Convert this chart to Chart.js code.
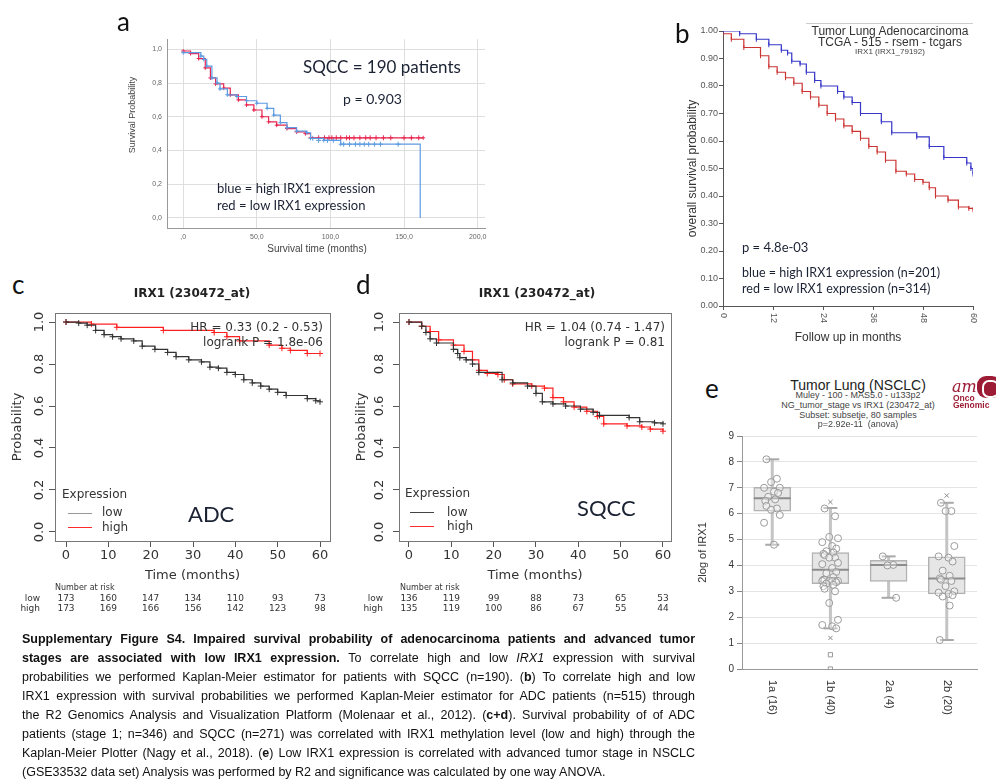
<!DOCTYPE html>
<html>
<head>
<meta charset="utf-8">
<title>Supplementary Figure S4</title>
<script src="https://cdn.jsdelivr.net/npm/chart.js@4.4.1/dist/chart.umd.min.js"></script>
<style>
  body { margin: 0; background: #fff; }
  #page { position: relative; width: 996px; height: 780px; overflow: hidden; background: #fff;
          font-family: 'Liberation Sans', Arial, sans-serif; color: #222; }
  #page canvas { position: absolute; }
  .t { position: absolute; white-space: nowrap; line-height: 1; }
  .letter { font-family: Lato, 'Open Sans', sans-serif; font-size: 26px; color: #111; }
  .note { font-family: Lato, 'Open Sans', sans-serif; color: #1b2233; }
  .rfont { font-family: 'DejaVu Sans', sans-serif; color: #333; }
  .red { color: #ff2a2a; }
  .risk { font-family: 'DejaVu Sans', sans-serif; font-size: 9px; color: #333; }
  .key { position: absolute; width: 24px; height: 0; border-top: 1px solid #888; }
  .caption { position: absolute; left: 22px; top: 630px; width: 673px; font-size: 12.5px; line-height: 19px; color: #111; }
  .caption div { white-space: nowrap; }
  .caption span { display: inline-block; transform-origin: 0 50%; }
</style>
</head>
<body>
<div id="page">
  <canvas id="chartA" width="390" height="230" style="left:110px;top:30px"></canvas>
  <canvas id="chartB" width="326" height="335" style="left:670px;top:15px"></canvas>
  <canvas id="chartC" width="340" height="290" style="left:0px;top:300px"></canvas>
  <canvas id="chartD" width="340" height="290" style="left:340px;top:300px"></canvas>
  <canvas id="chartE" width="306" height="300" style="left:690px;top:425px"></canvas>

  <!-- panel a -->
  <div class="t letter" style="left:117px;top:8px">a</div>
  <div class="t note" style="left:303px;top:58px;font-size:17px">SQCC = 190 patients</div>
  <div class="t note" style="left:343px;top:92px;font-size:14px">p = 0.903</div>
  <div class="t note" style="left:217px;top:182px;font-size:13px">blue = high IRX1 expression</div>
  <div class="t note" style="left:217px;top:199px;font-size:13px">red = low IRX1 expression</div>
  <div class="t" style="left:132px;top:115px;font-size:9px;color:#444;transform:translate(-50%,-50%) rotate(-90deg)">Survival Probability</div>
  <div class="t" style="left:317px;top:249px;font-size:10px;color:#444;transform:translate(-50%,-50%)">Survival time (months)</div>

  <!-- panel b -->
  <div class="t letter" style="left:675px;top:20px">b</div>
  <div style="position:absolute;left:806px;top:23px;width:167px;border-top:1px solid #ccc"></div>
  <div class="t" style="left:890px;top:25px;font-size:12px;color:#333;transform:translateX(-50%)">Tumor Lung Adenocarcinoma</div>
  <div class="t" style="left:890px;top:36px;font-size:12px;color:#333;transform:translateX(-50%)">TCGA - 515 - rsem - tcgars</div>
  <div class="t" style="left:890px;top:48px;font-size:8px;color:#444;transform:translateX(-50%)">IRX1 (IRX1_79192)</div>
  <div class="t note" style="left:742px;top:241px;font-size:13px">p = 4.8e-03</div>
  <div class="t note" style="left:742px;top:267px;font-size:12.5px">blue = high IRX1 expression (n=201)</div>
  <div class="t note" style="left:742px;top:283px;font-size:12.5px">red = low IRX1 expression (n=314)</div>

  <!-- panel c -->
  <div class="t letter" style="left:12px;top:271px">c</div>
  <div class="t rfont" style="left:192px;top:287px;font-size:12px;font-weight:bold;color:#222;transform:translateX(-50%)">IRX1 (230472_at)</div>
  <div class="t rfont" style="left:323px;top:321px;font-size:12px;transform:translateX(-100%)">HR = 0.33 (0.2 - 0.53)</div>
  <div class="t rfont" style="left:323px;top:336px;font-size:12px;transform:translateX(-100%)">logrank P = 1.8e-06</div>
  <div class="t rfont" style="left:62px;top:488px;font-size:12px">Expression</div>
  <div class="key" style="left:68px;top:513px;border-color:#999"></div>
  <div class="key" style="left:68px;top:527px;border-color:#ff2a2a"></div>
  <div class="t rfont" style="left:102px;top:506px;font-size:12px">low</div>
  <div class="t rfont" style="left:102px;top:521px;font-size:12px">high</div>
  <div class="t note" style="left:188px;top:503px;font-size:22px">ADC</div>
  <div class="t risk" style="left:55px;top:584px;font-size:8px">Number at risk</div>
  <div class="t risk" style="left:40px;top:594px;transform:translateX(-100%)">low</div>
  <div class="t risk red" style="left:40px;top:604px;transform:translateX(-100%)">high</div>

  <!-- panel d -->
  <div class="t letter" style="left:356px;top:271px">d</div>
  <div class="t rfont" style="left:537px;top:287px;font-size:12px;font-weight:bold;color:#222;transform:translateX(-50%)">IRX1 (230472_at)</div>
  <div class="t rfont" style="left:665px;top:321px;font-size:12px;transform:translateX(-100%)">HR = 1.04 (0.74 - 1.47)</div>
  <div class="t rfont" style="left:665px;top:336px;font-size:12px;transform:translateX(-100%)">logrank P = 0.81</div>
  <div class="t rfont" style="left:405px;top:487px;font-size:12px">Expression</div>
  <div class="key" style="left:410px;top:512px;border-color:#444"></div>
  <div class="key" style="left:410px;top:526px;border-color:#ff2a2a"></div>
  <div class="t rfont" style="left:447px;top:506px;font-size:12px">low</div>
  <div class="t rfont" style="left:447px;top:520px;font-size:12px">high</div>
  <div class="t note" style="left:577px;top:497px;font-size:22px">SQCC</div>
  <div class="t risk" style="left:400px;top:584px;font-size:8px">Number at risk</div>
  <div class="t risk" style="left:383px;top:594px;transform:translateX(-100%)">low</div>
  <div class="t risk red" style="left:383px;top:604px;transform:translateX(-100%)">high</div>

  <!-- panel e -->
  <div class="t letter" style="left:705px;top:375px">e</div>
  <div class="t" style="left:858px;top:378px;font-size:14px;color:#222;transform:translateX(-50%)">Tumor Lung (NSCLC)</div>
  <div class="t" style="left:858px;top:391px;font-size:9px;color:#444;transform:translateX(-50%)">Muley - 100 - MAS5.0 - u133p2</div>
  <div class="t" style="left:858px;top:401px;font-size:9px;color:#444;transform:translateX(-50%)">NG_tumor_stage vs IRX1 (230472_at)</div>
  <div class="t" style="left:858px;top:411px;font-size:9px;color:#444;transform:translateX(-50%)">Subset: subsetje, 80 samples</div>
  <div class="t" style="left:858px;top:420px;font-size:9px;color:#444;transform:translateX(-50%)">p=2.92e-11&nbsp; (anova)</div>
  <div style="position:absolute;left:977px;top:376px;width:24px;height:22px;border-radius:9px;background:#9d1c35"></div>
  <div style="position:absolute;left:982px;top:380px;width:13px;height:14px;border-radius:7px;border:2px solid #fff;border-right-color:transparent"></div>
  <div class="t" style="left:952px;top:377px;font:italic 16px 'DejaVu Serif',serif;color:#9d1c35">am</div>
  <div class="t" style="left:953px;top:393px;font:bold 8.5px 'Liberation Sans',sans-serif;color:#9d1c35">Onco</div>
  <div class="t" style="left:953px;top:400px;font:bold 8.5px 'Liberation Sans',sans-serif;color:#9d1c35">Genomic</div>

  <div class="caption">
    <div><span><b>Supplementary Figure S4. Impaired survival probability of adenocarcinoma patients and advanced tumor</b></span></div>
    <div><span><b>stages are associated with low IRX1 expression.</b> To correlate high and low <i>IRX1</i> expression with survival</span></div>
    <div><span>probabilities we performed Kaplan-Meier estimator for patients with SQCC (n=190). (<b>b</b>) To correlate high and low</span></div>
    <div><span>IRX1 expression with survival probabilities we performed Kaplan-Meier estimator for ADC patients (n=515) through</span></div>
    <div><span>the R2 Genomics Analysis and Visualization Platform (Molenaar et al., 2012). (<b>c+d</b>). Survival probability of of ADC</span></div>
    <div><span>patients (stage 1; n=346) and SQCC (n=271) was correlated with IRX1 methylation level (low and high) through the</span></div>
    <div><span>Kaplan-Meier Plotter (Nagy et al., 2018). (<b>e</b>) Low IRX1 expression is correlated with advanced tumor stage in NSCLC</span></div>
    <div class="last"><span>(GSE33532 data set) Analysis was performed by R2 and significance was calculated by one way ANOVA.</span></div>
  </div>
</div>

<script>
// ---- panel a: SQCC, SPSS export (months, survival) ----
const aTicksX = [0, 50, 100, 150, 200];
const aTicksY = [0, 0.2, 0.4, 0.6, 0.8, 1.0];
const aHighT = [0, 12, 14, 16, 19.5, 23, 25, 30, 36.5, 43, 50, 57, 61.5, 66, 70.5, 77, 84, 86.5, 95.5, 107, 161];
const aHighS = [0.98, 0.96, 0.94, 0.9, 0.83, 0.8, 0.765, 0.73, 0.72, 0.695, 0.68, 0.65, 0.61, 0.565, 0.535, 0.515, 0.505, 0.472, 0.46, 0.437, 0];
const aLowT = [0, 5, 10.5, 15, 18.5, 22, 27.5, 32, 37.5, 43, 48, 53.5, 58, 63.5, 70.5, 77, 83, 86.5, 163];
const aLowS = [0.99, 0.975, 0.945, 0.89, 0.83, 0.795, 0.77, 0.73, 0.7, 0.67, 0.64, 0.6, 0.57, 0.55, 0.53, 0.51, 0.5, 0.475, 0.475];
const aHighCensT = [88, 92, 98, 102, 109, 113, 117, 120, 123, 126, 130, 134, 146];
const aHighCensS = [0.472, 0.46, 0.46, 0.46, 0.437, 0.437, 0.437, 0.437, 0.437, 0.437, 0.437, 0.437, 0.437];
const aLowCensT = [92, 96, 99, 101, 104, 107, 111, 113, 116, 120, 124, 127, 131, 136, 141, 150, 155, 160];
const aLowCensS = [0.475, 0.475, 0.475, 0.475, 0.475, 0.475, 0.475, 0.475, 0.475, 0.475, 0.475, 0.475, 0.475, 0.475, 0.475, 0.475, 0.475, 0.475];

// ---- panel b: TCGA ADC ----
const bTicksX = [0, 12, 24, 36, 48, 60];
const bTicksY = [0, 0.1, 0.2, 0.3, 0.4, 0.5, 0.6, 0.7, 0.8, 0.9, 1.0];
const bHighT = [0, 4, 8, 11, 14, 15.5, 16.5, 18.5, 20, 22, 23.5, 27.5, 29, 31, 33, 38, 40.5, 46.5, 49.5, 53, 58.5, 59.5, 60];
const bHighS = [1.0, 0.99, 0.97, 0.95, 0.93, 0.92, 0.89, 0.88, 0.85, 0.82, 0.8, 0.78, 0.76, 0.74, 0.7, 0.67, 0.63, 0.615, 0.58, 0.54, 0.52, 0.5, 0.48];
const bLowT = [0, 2, 5, 9, 11, 13, 15, 17, 19, 21, 23, 25, 27, 29, 31, 33, 35, 37, 39, 41.5, 44, 46, 48, 49.5, 51, 54, 56.5, 59, 60];
const bLowS = [0.99, 0.97, 0.94, 0.91, 0.87, 0.85, 0.83, 0.81, 0.78, 0.76, 0.73, 0.7, 0.68, 0.655, 0.635, 0.61, 0.58, 0.56, 0.53, 0.49, 0.48, 0.46, 0.45, 0.43, 0.4, 0.385, 0.36, 0.355, 0.35];

// ---- panels c + d: KM plotter ----
const kmTicksX = [0, 10, 20, 30, 40, 50, 60];
const kmTicksY = [0, 0.2, 0.4, 0.6, 0.8, 1.0];
const cLowT = [0, 3, 5, 7, 9, 11, 13, 16, 18, 21, 24, 26, 29, 32, 34, 36, 38, 40, 42, 44, 46, 48, 50, 52, 57, 59, 60];
const cLowS = [1.0, 0.995, 0.985, 0.96, 0.94, 0.93, 0.92, 0.91, 0.885, 0.87, 0.855, 0.835, 0.82, 0.81, 0.785, 0.78, 0.76, 0.75, 0.725, 0.71, 0.695, 0.68, 0.665, 0.65, 0.635, 0.625, 0.62];
const cHighT = [0, 6, 12, 23, 35, 38, 41, 48, 51, 53, 57, 60];
const cHighS = [1.0, 0.99, 0.975, 0.96, 0.95, 0.93, 0.91, 0.89, 0.875, 0.865, 0.85, 0.85];
const cRiskLow = [173, 160, 147, 134, 110, 93, 73];
const cRiskHigh = [173, 169, 166, 156, 142, 123, 98];
const dLowT = [0, 3, 4, 5, 6.5, 10.5, 11.5, 12, 13.5, 15, 16.5, 22, 24.5, 28, 30, 31.5, 34, 37, 40.5, 43.5, 45, 52, 54.5, 58, 60];
const dLowS = [1.0, 0.98, 0.95, 0.92, 0.9, 0.87, 0.85, 0.83, 0.82, 0.8, 0.76, 0.725, 0.71, 0.695, 0.66, 0.62, 0.61, 0.6, 0.585, 0.57, 0.555, 0.545, 0.525, 0.52, 0.515];
const dHighT = [0, 3, 5, 7, 10.5, 13, 15, 16.5, 18.5, 21, 22.5, 24.5, 29, 32, 34, 36.5, 39, 42, 44.5, 46, 51.5, 55, 57, 60];
const dHighS = [1.0, 0.98, 0.955, 0.915, 0.89, 0.86, 0.82, 0.77, 0.755, 0.75, 0.725, 0.705, 0.695, 0.685, 0.64, 0.62, 0.595, 0.575, 0.55, 0.515, 0.505, 0.5, 0.49, 0.48];
const dRiskLow = [136, 119, 99, 88, 73, 65, 53];
const dRiskHigh = [135, 119, 100, 86, 67, 55, 44];

// ---- panel e: IRX1 by tumor stage ----
const stageLabels = ['1a (16)', '1b (40)', '2a (4)', '2b (20)'];
const eTicksY = [0, 1, 2, 3, 4, 5, 6, 7, 8, 9];
const boxQ1 = [6.1, 3.3, 3.38, 2.9];
const boxMed = [6.6, 3.83, 4.02, 3.5];
const boxQ3 = [7.02, 4.5, 4.2, 4.33];
const whiskLo = [4.8, 1.57, 2.75, 1.12];
const whiskHi = [8.1, 6.22, 4.35, 6.42];
const samples1a = [8.1, 7.35, 7.22, 7.0, 7.0, 6.85, 6.8, 6.65, 6.55, 6.5, 6.3, 6.2, 6.15, 5.95, 5.65, 4.8];
const samples1b = [6.2, 5.9, 5.1, 5.05, 4.9, 4.75, 4.65, 4.55, 4.5, 4.45, 4.4, 4.3, 4.3, 4.1, 4.05, 3.9, 3.75, 3.7,
  3.55, 3.45, 3.45, 3.4, 3.4, 3.4, 3.4, 3.4, 3.35, 3.3, 3.25, 3.2, 3.1, 3.0, 2.55, 1.9, 1.7, 1.65, 1.57];
const samples2a = [4.35, 4.02, 4.0, 2.75];
const samples2b = [6.42, 6.1, 6.1, 4.75, 4.35, 4.3, 4.15, 3.8, 3.6, 3.5, 3.45, 3.4, 3.2, 3.0, 2.95, 2.9, 2.85, 2.8, 2.45, 1.12];
const outlierCross = [[], [6.45, 1.2], [], [6.7]];
const outlierFar = [[], [0.55, 0], [], []];

const BLUE_A = '#5d9be2';
const RED_A = '#e8264f';
const BOX_W = 37;

const base = {
  responsive: false,
  animation: false,
  devicePixelRatio: 1,
  events: [],
  plugins: { legend: { display: false }, tooltip: { enabled: false } },
};

function setTicks(values) {
  return s => {
    s.ticks = values.map(v => ({ value: v }));
  };
}

// survival drops at each listed time: horizontal first, then down
function stepSet(times, surv, color, style, radius, rotation) {
  return {
    data: times.map((t, i) => ({ x: t, y: surv[i] })),
    borderColor: color,
    backgroundColor: color,
    borderWidth: 1.2,
    stepped: 'before',
    pointStyle: style,
    pointRotation: rotation || 0,
    pointRadius: ctx => (ctx.raw && ctx.raw.y === 0 ? 0 : radius),
    pointBorderWidth: 1,
  };
}

function censorSet(times, surv, color, radius) {
  return {
    data: times.map((t, i) => ({ x: t, y: surv[i] })),
    showLine: false,
    borderColor: color,
    backgroundColor: color,
    pointStyle: 'cross',
    pointRadius: radius,
    pointBorderWidth: 1,
  };
}

// tick labels turned 90 degrees (R style), drawn through the chart's own scales
function turnedTicks(items) {
  return {
    id: 'turnedTicks',
    afterDraw(chart) {
      const ctx = chart.ctx;
      items.forEach(item => {
        const s = chart.scales[item.axis];
        ctx.save();
        ctx.font = item.font;
        ctx.fillStyle = item.color;
        item.values.forEach((v, i) => {
          ctx.save();
          if (s.isHorizontal()) {
            ctx.translate(s.getPixelForValue(v), s.top + item.gap);
            ctx.rotate(Math.PI / 2);
            ctx.textAlign = 'left';
            ctx.textBaseline = 'middle';
          } else {
            ctx.translate(s.right - item.gap, s.getPixelForValue(v));
            ctx.rotate(-Math.PI / 2);
            ctx.textAlign = 'center';
            ctx.textBaseline = 'bottom';
          }
          ctx.fillText(item.labels[i], 0, 0);
          ctx.restore();
        });
        ctx.restore();
      });
    },
  };
}

const frame = {
  id: 'frame',
  afterDraw(chart) {
    const { ctx, chartArea: a } = chart;
    ctx.save();
    ctx.strokeStyle = '#777';
    ctx.lineWidth = 1;
    ctx.strokeRect(Math.round(a.left) + 0.5, Math.round(a.top) + 0.5, Math.round(a.right - a.left), Math.round(a.bottom - a.top));
    ctx.restore();
  },
};

function boxParts() {
  function seg(ctx, x1, y1, x2, y2) {
    ctx.beginPath();
    ctx.moveTo(x1, y1);
    ctx.lineTo(x2, y2);
    ctx.stroke();
  }
  return {
    id: 'boxParts',
    beforeDatasetsDraw(chart) {
      const { ctx, scales: { x, y } } = chart;
      ctx.save();
      stageLabels.forEach((_, i) => {
        const cx = x.getPixelForValue(i);
        ctx.strokeStyle = '#c4c4c4';
        ctx.lineWidth = 3;
        seg(ctx, cx, y.getPixelForValue(whiskLo[i]), cx, y.getPixelForValue(whiskHi[i]));
        ctx.strokeStyle = '#a8a8a8';
        ctx.lineWidth = 2;
        [whiskLo[i], whiskHi[i]].forEach(v => {
          const py = y.getPixelForValue(v);
          seg(ctx, cx - 7, py, cx + 7, py);
        });
      });
      ctx.restore();
    },
    afterDatasetDraw(chart, args) {
      if (args.index !== 0) return;
      const { ctx, scales: { x, y } } = chart;
      ctx.save();
      ctx.strokeStyle = '#8c8c8c';
      ctx.lineWidth = 2;
      boxMed.forEach((m, i) => {
        const cx = x.getPixelForValue(i);
        const py = y.getPixelForValue(m);
        seg(ctx, cx - BOX_W / 2, py, cx + BOX_W / 2, py);
      });
      ctx.restore();
    },
  };
}

function riskTable(chart, left, lowVals, highVals) {
  const page = document.getElementById('page');
  [[lowVals, 594, ''], [highVals, 604, ' red']].forEach(([vals, top, cls]) => {
    vals.forEach((n, i) => {
      const d = document.createElement('div');
      d.className = 't risk' + cls;
      d.textContent = n;
      d.style.left = left + chart.scales.x.getPixelForValue(kmTicksX[i]) + 'px';
      d.style.top = top + 'px';
      d.style.transform = 'translateX(-50%)';
      page.appendChild(d);
    });
  });
}

// justify caption lines to the column width, squeezing any line that is too long
function justifyCaption() {
  const full = 673;
  document.querySelectorAll('.caption div').forEach(line => {
    const span = line.firstElementChild;
    const w = span.getBoundingClientRect().width;
    if (w > full) {
      span.style.transform = `scaleX(${full / w})`;
    } else if (!line.classList.contains('last')) {
      const gaps = span.textContent.trim().split(/\s+/).length - 1;
      span.style.wordSpacing = (full - w) / gaps + 'px';
    }
  });
}

// ---------- a ----------
new Chart(document.getElementById('chartA'), {
  type: 'line',
  data: {
    datasets: [
      stepSet(aHighT, aHighS, BLUE_A, 'cross', 2),
      stepSet(aLowT, aLowS, RED_A, 'cross', 2),
      censorSet(aHighCensT, aHighCensS, BLUE_A, 2.5),
      censorSet(aLowCensT, aLowCensS, RED_A, 2.5),
    ],
  },
  options: {
    ...base,
    layout: { padding: { top: 7, right: 15, left: 0, bottom: 0 } },
    scales: {
      x: {
        type: 'linear', min: -11, max: 205,
        afterFit: s => { s.height = 32; },
        afterBuildTicks: setTicks(aTicksX),
        ticks: { font: { size: 7 }, color: '#666', padding: 5, callback: v => (v === 0 ? ',0' : v + ',0') },
        grid: { color: '#dedede', drawTicks: false },
        border: { color: '#999' },
      },
      y: {
        min: -0.06, max: 1.06,
        afterFit: s => { s.width = 57; },
        afterBuildTicks: setTicks(aTicksY),
        ticks: { font: { size: 7 }, color: '#666', padding: 5, callback: v => v.toFixed(1).replace('.', ',') },
        grid: { color: '#dedede', drawTicks: false },
        border: { color: '#999' },
      },
    },
  },
});

// ---------- b ----------
new Chart(document.getElementById('chartB'), {
  type: 'line',
  data: {
    datasets: [
      stepSet(bHighT, bHighS, '#3535c8', 'line', 2.5, 90),
      stepSet(bLowT, bLowS, '#cc3333', 'line', 2.5, 90),
    ],
  },
  options: {
    ...base,
    layout: { padding: { top: 16, right: 23, left: 0, bottom: 0 } },
    scales: {
      x: {
        type: 'linear', min: 0, max: 60,
        afterFit: s => { s.height = 44; },
        afterBuildTicks: setTicks(bTicksX),
        ticks: { display: false },
        grid: { drawOnChartArea: false, tickLength: 4, color: '#555' },
        border: { color: '#555' },
        title: { display: true, text: 'Follow up in months', font: { size: 12 }, color: '#333', padding: { bottom: 5 } },
      },
      y: {
        min: 0, max: 1,
        afterFit: s => { s.width = 53; },
        afterBuildTicks: setTicks(bTicksY),
        ticks: { font: { size: 9 }, color: '#555', padding: 1, callback: v => v.toFixed(2) },
        grid: { drawOnChartArea: false, tickLength: 4, color: '#555' },
        border: { color: '#555' },
        title: { display: true, text: 'overall survival probability', font: { size: 12 }, color: '#333', padding: { top: 15 } },
      },
    },
  },
  plugins: [turnedTicks([{ axis: 'x', values: bTicksX, labels: bTicksX.map(String), gap: 7, font: '9px "Liberation Sans"', color: '#555' }])],
});

// ---------- c + d ----------
function kmOptions(xMin, xMax, yWidth, padRight, yTitlePad) {
  return {
    ...base,
    layout: { padding: { top: 13, right: padRight, left: 0, bottom: 0 } },
    scales: {
      x: {
        type: 'linear', min: xMin, max: xMax,
        afterFit: s => { s.height = 49; },
        afterBuildTicks: setTicks(kmTicksX),
        ticks: { font: { family: 'DejaVu Sans', size: 13 }, color: '#333', padding: 1 },
        grid: { drawOnChartArea: false, tickLength: 6, color: '#555' },
        border: { display: false },
        title: { display: true, text: 'Time (months)', font: { family: 'DejaVu Sans', size: 13 }, color: '#333', padding: { bottom: 7 } },
      },
      y: {
        min: -0.043, max: 1.043,
        afterFit: s => { s.width = yWidth; },
        afterBuildTicks: setTicks(kmTicksY),
        ticks: { display: false },
        grid: { drawOnChartArea: false, tickLength: 6, color: '#555' },
        border: { display: false },
        title: { display: true, text: 'Probability', font: { family: 'DejaVu Sans', size: 13 }, color: '#333', padding: { top: yTitlePad } },
      },
    },
  };
}

const chartC = new Chart(document.getElementById('chartC'), {
  type: 'line',
  data: {
    datasets: [
      stepSet(cLowT, cLowS, '#333333', 'cross', 3),
      stepSet(cHighT, cHighS, '#ff2020', 'cross', 3),
    ],
  },
  options: kmOptions(-2.6, 62.36, 55, 10, 10),
  plugins: [frame, turnedTicks([{ axis: 'y', values: kmTicksY, labels: kmTicksY.map(v => v.toFixed(1)), gap: 9, font: '13px "DejaVu Sans"', color: '#333' }])],
});
riskTable(chartC, 0, cRiskLow, cRiskHigh);

const chartD = new Chart(document.getElementById('chartD'), {
  type: 'line',
  data: {
    datasets: [
      stepSet(dLowT, dLowS, '#333333', 'cross', 3),
      stepSet(dHighT, dHighS, '#ff2020', 'cross', 3),
    ],
  },
  options: kmOptions(-2.36, 61.89, 59, 9, 14),
  plugins: [frame, turnedTicks([{ axis: 'y', values: kmTicksY, labels: kmTicksY.map(v => v.toFixed(1)), gap: 13, font: '13px "DejaVu Sans"', color: '#333' }])],
});
riskTable(chartD, 340, dRiskLow, dRiskHigh);

// ---------- e ----------
const jitter = [-0.1, 0.08, -0.02, 0.13, -0.14, 0.03, 0.1, -0.07, 0.05, -0.12];
const stageSamples = [samples1a, samples1b, samples2a, samples2b];
const samplePoints = stageSamples.flatMap((vals, i) => vals.map((v, k) => ({ x: i + jitter[k % jitter.length], y: v })));
const crossPoints = outlierCross.flatMap((vals, i) => vals.map(v => ({ x: i, y: v })));
const farPoints = outlierFar.flatMap((vals, i) => vals.map(v => ({ x: i, y: v })));

new Chart(document.getElementById('chartE'), {
  type: 'bar',
  data: {
    datasets: [
      {
        type: 'bar',
        order: 2,
        data: stageLabels.map((_, i) => ({ x: i, y: [boxQ1[i], boxQ3[i]] })),
        backgroundColor: '#e6e6e6',
        borderColor: '#b2b2b2',
        borderWidth: 1.5,
        borderSkipped: false,
        barThickness: BOX_W,
      },
      {
        type: 'scatter',
        order: 1,
        data: samplePoints,
        pointStyle: 'circle',
        pointRadius: 3.5,
        borderColor: '#9a9a9a',
        backgroundColor: 'rgba(255,255,255,0.35)',
        pointBorderWidth: 1,
      },
      {
        type: 'scatter',
        order: 1,
        data: crossPoints,
        pointStyle: 'crossRot',
        pointRadius: 3,
        borderColor: '#888',
        pointBorderWidth: 1,
      },
      {
        type: 'scatter',
        order: 1,
        data: farPoints,
        pointStyle: 'rect',
        pointRadius: 3,
        borderColor: '#999',
        backgroundColor: '#fff',
        pointBorderWidth: 1,
      },
    ],
  },
  options: {
    ...base,
    layout: { padding: { top: 11, right: 19, left: 0, bottom: 0 } },
    scales: {
      x: {
        type: 'linear', min: -0.52, max: 3.52, offset: false,
        afterFit: s => { s.height = 56; },
        afterBuildTicks: setTicks([0, 1, 2, 3]),
        ticks: { display: false },
        grid: { display: false, offset: false },
        border: { color: '#999' },
      },
      y: {
        min: 0, max: 9,
        afterFit: s => { s.width = 52; },
        afterBuildTicks: setTicks(eTicksY),
        ticks: { font: { size: 10 }, color: '#333', padding: 3 },
        grid: { color: '#e4e4e4', tickColor: '#888', tickLength: 5 },
        border: { color: '#999' },
        title: { display: true, text: '2log of IRX1', font: { size: 11 }, color: '#333', padding: { top: 6 } },
      },
    },
  },
  plugins: [boxParts(), turnedTicks([{ axis: 'x', values: [0, 1, 2, 3], labels: stageLabels, gap: 11, font: '11px "Liberation Sans"', color: '#333' }])],
});

justifyCaption();
</script>
</body>
</html>
